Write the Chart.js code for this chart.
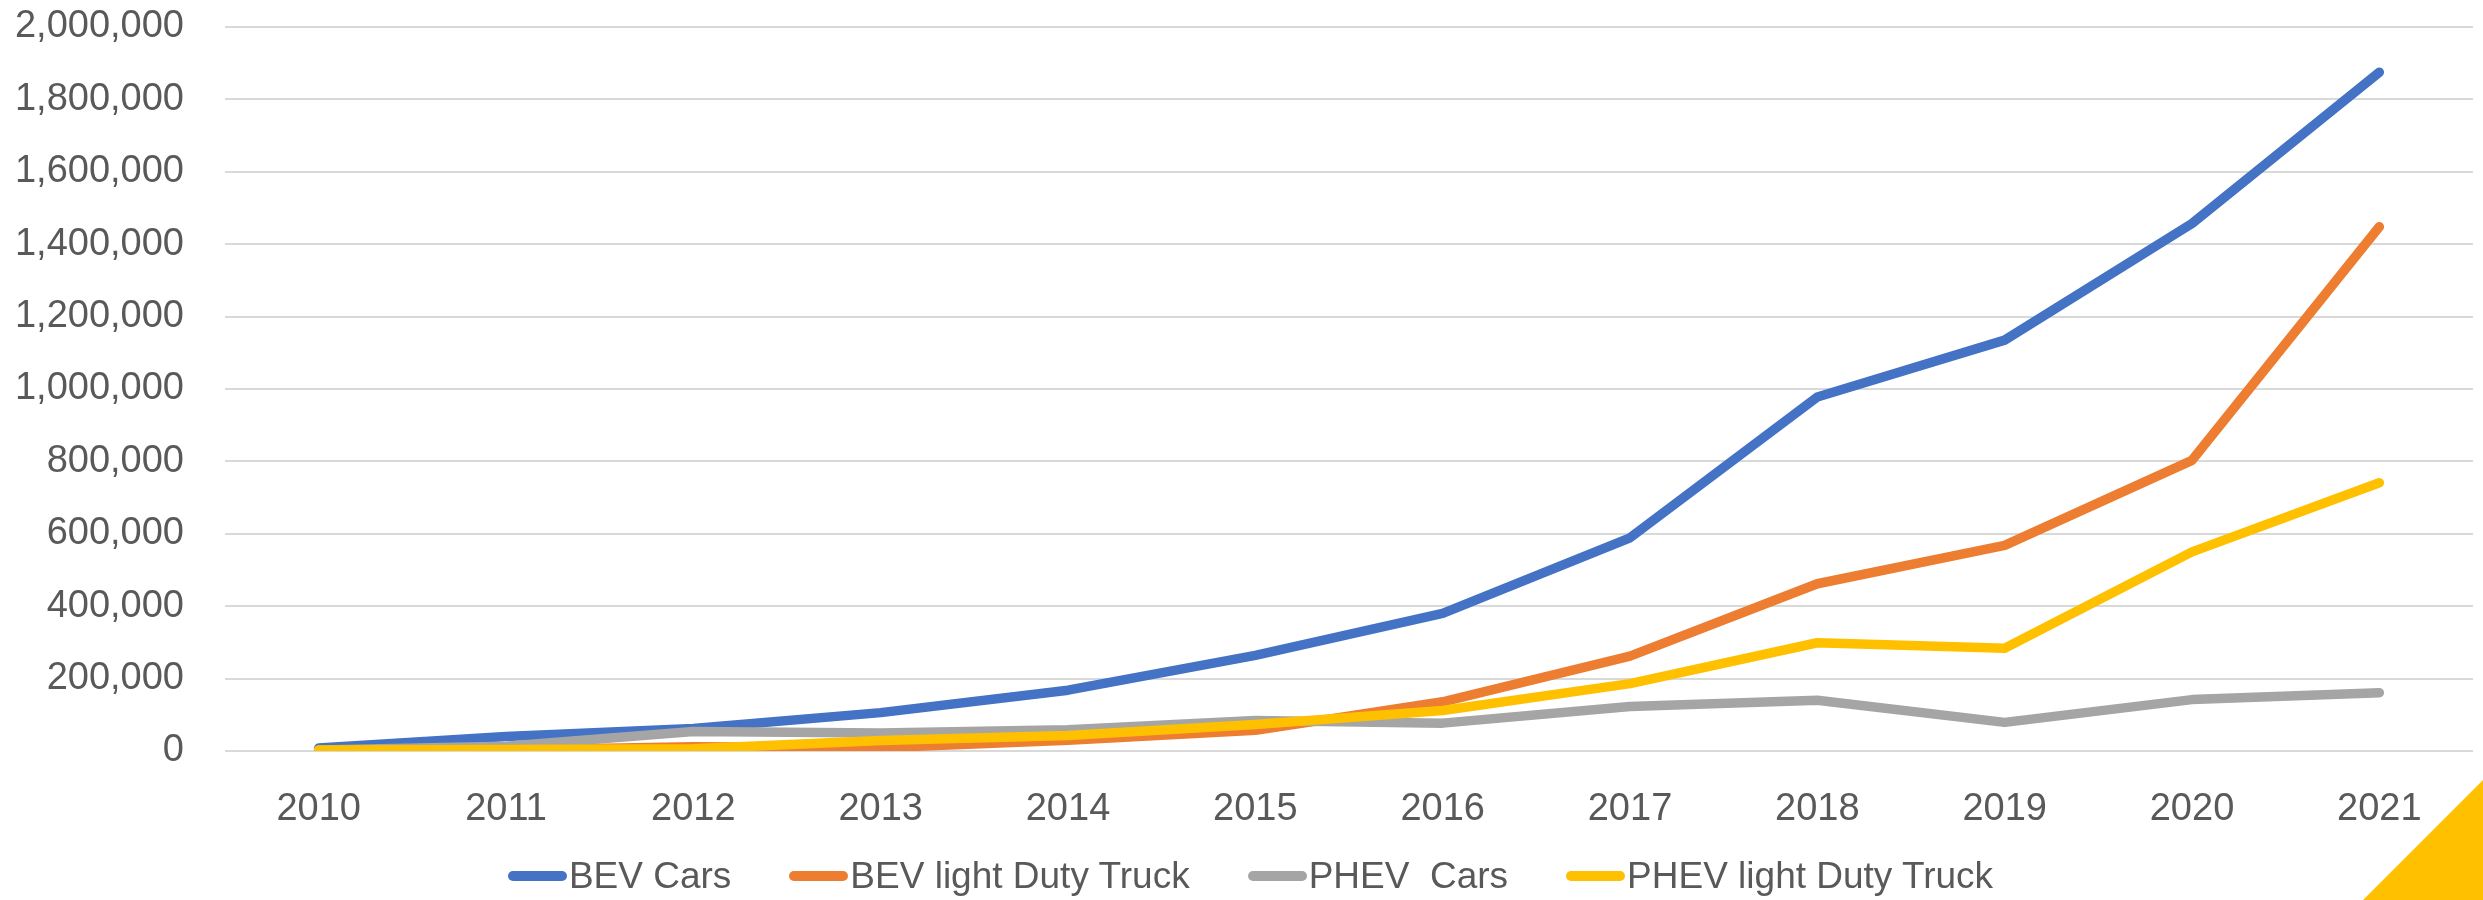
<!DOCTYPE html>
<html>
<head>
<meta charset="utf-8">
<script src="https://cdn.jsdelivr.net/npm/chart.js@4.4.1/dist/chart.umd.min.js"></script>
<style>
  html, body { margin: 0; padding: 0; background: #ffffff; }
  #wrap { position: relative; width: 2483px; height: 900px; overflow: hidden; }
  #corner { position: absolute; right: 0; bottom: 0; width: 120px; height: 120px;
            background: #FFC000; clip-path: polygon(100% 0, 100% 100%, 0 100%); }
  #legend { position: absolute; left: 9px; width: 2483px; top: 852px; height: 48px;
            display: flex; justify-content: center; align-items: center;
            font-family: "Liberation Sans", Arial, sans-serif; font-size: 37px; color: #595959; }
  .item { display: flex; align-items: center; margin: 0 29px; white-space: pre; }
  .sw { width: 59px; height: 10px; border-radius: 5px; margin-right: 2px; }
</style>
</head>
<body>
<div id="wrap">
  <canvas id="c" width="2483" height="900"></canvas>
  <div id="legend"></div>
  <div id="corner"></div>
</div>
<script>
const years = ['2010','2011','2012','2013','2014','2015','2016','2017','2018','2019','2020','2021'];
const bevCars = [8000, 40000, 62000, 106000, 168000, 264000, 380000, 589000, 978000, 1135000, 1457000, 1875000];
const bevTrucks = [1000, 3000, 12000, 9000, 30000, 57000, 136000, 262000, 462000, 568000, 803000, 1448000];
const phevCars = [3000, 13000, 54000, 50000, 59000, 84000, 77000, 123000, 140000, 79000, 142000, 161000];
const phevTrucks = [3000, 4000, 6000, 29000, 43000, 73000, 112000, 186000, 299000, 284000, 550000, 741000];
const seriesNames = ['BEV Cars', 'BEV light Duty Truck', 'PHEV  Cars', 'PHEV light Duty Truck'];
const yMin = 0, yMax = 2000000, yStep = 200000;

const colors = ['#4472C4', '#ED7D31', '#A5A5A5', '#FFC000'];
const textColor = '#595959';
const fontFam = '"Liberation Sans", Arial, sans-serif';

function ds(label, data, color, order) {
  return {
    label, data, order,
    borderColor: color, backgroundColor: color,
    borderWidth: 9.5, tension: 0, fill: false,
    pointRadius: 0, pointHoverRadius: 0,
    borderCapStyle: 'round', borderJoinStyle: 'round'
  };
}

const chart = new Chart(document.getElementById('c'), {
  type: 'line',
  data: {
    labels: years,
    datasets: [
      ds(seriesNames[0], bevCars, colors[0], 3),
      ds(seriesNames[1], bevTrucks, colors[1], 2),
      ds(seriesNames[2], phevCars, colors[2], 1),
      ds(seriesNames[3], phevTrucks, colors[3], 0)
    ]
  },
  options: {
    responsive: false,
    animation: false,
    events: [],
    layout: { padding: { left: 0, right: 10, top: 27, bottom: 49 } },
    scales: {
      x: {
        offset: true,
        grid: { display: true, color: 'transparent', tickColor: 'transparent', drawTicks: true, tickLength: 36 },
        border: { display: false },
        ticks: { color: textColor, font: { family: fontFam, size: 38 }, padding: 0, maxRotation: 0, autoSkip: false },
        afterFit: (s) => { s.height = 100; }
      },
      y: {
        min: yMin, max: yMax,
        grid: { color: '#D9D9D9', lineWidth: 2, drawTicks: true, tickLength: 41, tickColor: 'transparent' },
        border: { display: false },
        ticks: {
          stepSize: yStep, color: textColor, padding: 0,
          font: { family: fontFam, size: 38 },
          callback: (v) => Number(v).toLocaleString('en-US')
        },
        afterFit: (s) => { s.width = 225; }
      }
    },
    plugins: {
      tooltip: { enabled: false },
      legend: { display: false }
    }
  }
});

// HTML legend built from the chart's datasets
const legendEl = document.getElementById('legend');
chart.data.datasets.forEach((d) => {
  const item = document.createElement('div');
  item.className = 'item';
  const sw = document.createElement('span');
  sw.className = 'sw';
  sw.style.background = d.borderColor;
  const tx = document.createElement('span');
  tx.textContent = d.label;
  item.appendChild(sw);
  item.appendChild(tx);
  legendEl.appendChild(item);
});
</script>
</body>
</html>
